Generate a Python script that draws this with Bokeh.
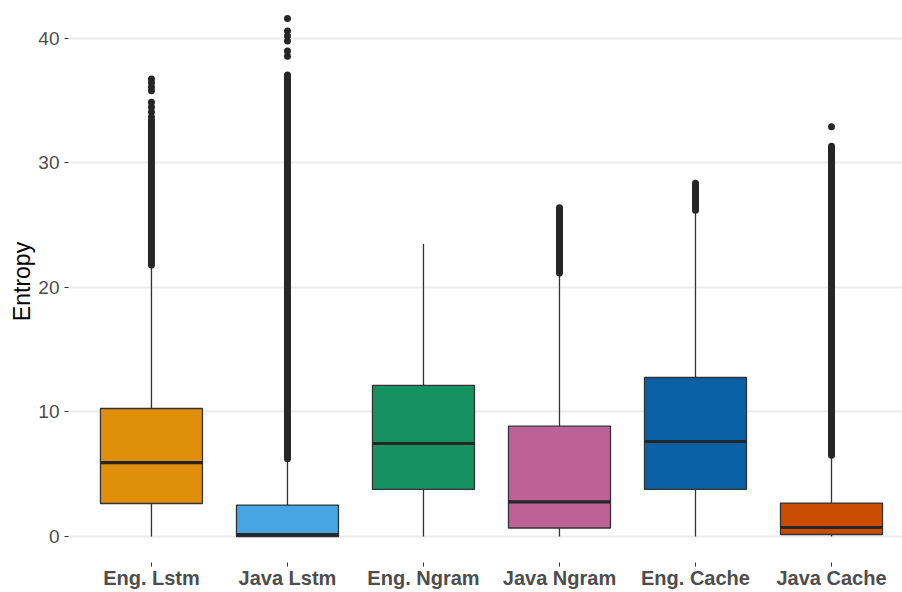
import numpy as np
from bokeh.plotting import figure
from bokeh.models import Range1d, FixedTicker
from bokeh.embed import file_html
from bokeh.resources import INLINE

# ---- data ----
categories = ["Eng. Lstm", "Java Lstm", "Eng. Ngram", "Java Ngram", "Eng. Cache", "Java Cache"]
colors = ["#E08F0B", "#47A5E3", "#169161", "#BD6196", "#0B60A5", "#CB4D03"]
lower_whisker = [0.0, 0.0, 0.0, 0.0, 0.0, 0.0]
q1 = [2.65, 0.0, 3.78, 0.68, 3.78, 0.16]
median = [5.94, 0.15, 7.47, 2.78, 7.63, 0.72]
q3 = [10.28, 2.52, 12.13, 8.86, 12.77, 2.68]
upper_whisker = [21.6, 6.15, 23.5, 21.0, 26.0, 6.4]
# dense runs of outliers (continuous columns of points)
outlier_run_lo = [21.8, 6.25, np.nan, 21.16, 26.2, 6.52]
outlier_run_hi = [33.4, 37.07, np.nan, 26.4, 28.37, 31.34]
# isolated outliers
iso_cat = ["Eng. Lstm"] * 8 + ["Java Lstm"] * 6 + ["Java Cache"]
iso_val = [36.75, 36.45, 36.1, 35.8, 34.88, 34.5, 34.1, 33.7,
           41.6, 40.6, 40.2, 39.8, 39.0, 38.57,
           32.9]
y_ticks = [0, 10, 20, 30, 40]

box_width = 0.75
x = np.arange(1, len(categories) + 1)
pos = {c: i + 1 for i, c in enumerate(categories)}
iso_x = [pos[c] for c in iso_cat]

p = figure(width=902, height=592, output_backend="svg", toolbar_location=None,
           x_range=Range1d(0.39, 6.522), y_range=Range1d(-2.09, 43.05),
           min_border_left=68, min_border_right=0, min_border_top=0, min_border_bottom=30)

p.outline_line_color = None
p.background_fill_color = "white"
p.border_fill_color = "white"

# grid
p.xgrid.grid_line_color = None
p.ygrid.grid_line_color = "#EBEBEB"
p.ygrid.grid_line_width = 2
p.yaxis.ticker = FixedTicker(ticks=y_ticks)
p.xaxis.ticker = FixedTicker(ticks=list(x))
p.xaxis.major_label_overrides = {int(i): c for i, c in zip(x, categories)}

for ax in (p.xaxis, p.yaxis):
    ax.axis_line_color = None
    ax.major_tick_line_color = "#333333"
    ax.major_tick_line_width = 1
    ax.major_tick_in = 0
    ax.major_tick_out = 4
    ax.minor_tick_line_color = None
    ax.major_label_text_font = "Liberation Sans"
    ax.major_label_text_color = "#4D4D4D"

p.yaxis.major_label_text_font_size = "19px"
p.yaxis.major_label_standoff = 5
p.yaxis.axis_label = "Entropy"
p.yaxis.axis_label_text_font = "Liberation Sans"
p.yaxis.axis_label_text_font_size = "23px"
p.yaxis.axis_label_text_font_style = "normal"
p.yaxis.axis_label_text_color = "black"
p.yaxis.axis_label_standoff = 0

p.xaxis.major_label_text_font_size = "20px"
p.xaxis.major_label_text_font_style = "bold"
p.xaxis.major_label_standoff = 0

line_col = "#333333"
# whiskers
p.segment(x0=x, y0=q3, x1=x, y1=upper_whisker, line_color=line_col, line_width=1.3)
p.segment(x0=x, y0=lower_whisker, x1=x, y1=q1, line_color=line_col, line_width=1.3)
# outlier runs
p.segment(x0=x, y0=outlier_run_lo, x1=x, y1=outlier_run_hi, line_color="#262626",
          line_width=7, line_cap="round")
p.scatter(iso_x, iso_val, size=7, fill_color="#262626", line_color=None)
# boxes
p.vbar(x=x, width=box_width, bottom=q1, top=q3, fill_color=colors,
       line_color=line_col, line_width=1.3)
# medians
p.segment(x0=x - box_width / 2, y0=median, x1=x + box_width / 2, y1=median,
          line_color="#262626", line_width=3.2)

open("out.html", "w").write(file_html(p, INLINE))
